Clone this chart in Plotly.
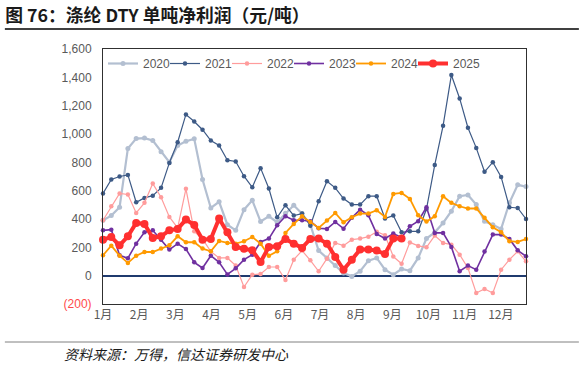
import plotly.graph_objects as go

# ---- data (weekly, index 0..51) ----
months = ["1月", "2月", "3月", "4月", "5月", "6月", "7月", "8月", "9月", "10月", "11月", "12月"]
y_ticks = [-200, 0, 200, 400, 600, 800, 1000, 1200, 1400, 1600]

s2020 = [391, 424, 483, 898, 968, 971, 954, 874, 801, 919, 949, 966, 679, 478, 521, 360, 320, 466,
         532, 382, 419, 377, 440, 497, 438, 360, 177, 125, 71, 19, -5, 31, 106, 125, 42,
         7, 47, 35, 125, 262, 306, 372, 455, 561, 570, 502, 384, 360, 330, 514, 641, 629]
s2021 = [580, 679, 700, 711, 518, 549, 565, 620, 796, 942, 1138, 1088, 1030, 954, 919, 815, 806, 702,
         624, 759, 615, 412, 497, 424, 438, 353, 525, 667, 620, 544, 502, 502, 561, 561, 403,
         424, 306, 313, 313, 470, 782, 1058, 1416, 1251, 1044, 902, 733, 801, 697, 483, 478, 400]
s2022 = [391, 490, 580, 573, 443, 514, 650, 554, 415, 337, 613, 313, 259, 170, 125, 125, 71, -80,
         7, 12, 61, 61, -31, 113, 177, 108, 31, 120, 231, 212, 254, 262, 275, 310, 285,
         135, 85, 235, 210, 200, 283, 231, 219, 148, 54, -122, -94, -122, 42, 113, 172, 101]
s2023 = [320, 325, 144, 123, 226, 306, 320, 254, 184, 226, 188, 94, 54, 141, 94, 9, 52, 113,
         148, 238, 262, 356, 419, 391, 391, 384, 335, 330, 379, 332, 408, 466, 426, 295, 262,
         297, 269, 349, 384, 483, 302, 302, 203, 31, 71, 42, 170, 290, 290, 259, 179, 137]
s2024 = [144, 212, 141, 90, 141, 167, 167, 191, 214, 278, 236, 236, 191, 172, 245, 231, 226, 243,
         273, 226, 141, 172, 302, 365, 419, 379, 337, 389, 443, 377, 412, 438, 438, 462, 415,
         577, 584, 542, 426, 382, 419, 561, 514, 490, 474, 474, 408, 342, 306, 243, 238, 259]
s2025 = [254, 273, 214, 278, 372, 365, 266, 278, 320, 330, 396, 358, 254, 259, 403, 306, 203, 190,
         179, 97, 203, 207, 259, 226, 196, 259, 262, 226, 132, 42, 113, 184, 184, 177, 153,
         262, 262]

series = [
    ("2020", s2020, "#B3BFD1", 2.2, 5),
    ("2021", s2021, "#3D5A86", 1.2, 4.5),
    ("2022", s2022, "#FF9C9C", 1.2, 4.5),
    ("2023", s2023, "#7030A0", 1.6, 4.5),
    ("2024", s2024, "#FF9A00", 1.8, 4.5),
    ("2025", s2025, "#FF3030", 4.0, 8),
]

FONT = "Liberation Sans, Arial, Noto Sans CJK SC, sans-serif"
CJK = "Noto Sans CJK SC, Liberation Sans, sans-serif"

fig = go.Figure()
for name, vals, color, lw, ms in series:
    fig.add_trace(go.Scatter(
        x=list(range(len(vals))), y=vals, name=name, mode="lines+markers",
        line=dict(color=color, width=lw), marker=dict(color=color, size=ms),
        cliponaxis=False,
    ))

week_per_month = 4.36
tickvals_x = [i * week_per_month for i in range(len(months))]

ticktext_y = []
for v in y_ticks:
    if v < 0:
        ticktext_y.append('<span style="color:#FF4B4B">(%s)</span>' % format(-v, ","))
    else:
        ticktext_y.append(format(v, ","))

fig.update_layout(
    width=583, height=367,
    margin=dict(l=103, r=57, t=49, b=63),
    paper_bgcolor="white", plot_bgcolor="white",
    font=dict(family=FONT, color="#595959", size=12),
    showlegend=True,
    legend=dict(orientation="h", x=0.0, y=1.0, xanchor="left", yanchor="top",
                bgcolor="rgba(0,0,0,0)", font=dict(size=12, color="#595959"),
                entrywidth=17, entrywidthmode="pixels", itemwidth=30,
                tracegroupgap=0),
    title=dict(text="<b>图 76：涤纶 DTY 单吨净利润（元/吨）</b>",
               x=0.009, xanchor="left", xref="container",
               y=0.958, yanchor="middle", yref="container",
               font=dict(family=CJK, size=17.8, color="#1A1A1A")),
    xaxis=dict(range=[0, 51], tickvals=tickvals_x, ticktext=months,
               showgrid=False, zeroline=False, ticks="",
               showline=True, mirror=True, linecolor="#303030", linewidth=1,
               tickfont=dict(family=CJK, size=12, color="#595959")),
    yaxis=dict(range=[-200, 1600], tickvals=y_ticks, ticktext=ticktext_y,
               showgrid=False, zeroline=True, zerolinecolor="#1F3A6E", zerolinewidth=1.5,
               ticks="", showline=True, mirror=True, linecolor="#303030", linewidth=1,
               ticklabelstandoff=8,
               tickfont=dict(size=12, color="#595959")),
    shapes=[
        dict(type="line", xref="paper", yref="paper", x0=-0.232, x1=1.125,
             y0=(304 - 29) / 255, y1=(304 - 29) / 255, line=dict(color="#404040", width=2)),
        dict(type="line", xref="paper", yref="paper", x0=-0.232, x1=1.125,
             y0=(304 - 342) / 255, y1=(304 - 342) / 255, line=dict(color="#808080", width=1)),
    ],
    annotations=[
        dict(text="<i>资料来源：万得，信达证券研发中心</i>", xref="paper", yref="paper",
             x=(62 - 103) / 423, y=(304 - 354) / 255, xanchor="left", yanchor="middle",
             showarrow=False, font=dict(family=CJK, size=14, color="#1A1A1A")),
    ],
)

post = (
    "document.body.style.margin='0px';"
    "var s=document.createElement('style');"
    "s.textContent='.legend .scrollbox, .legend g, .legend {clip-path:none !important;}';"
    "document.head.appendChild(s);"
)
fig.write_html("out.html", config={"displayModeBar": False}, post_script=post)
